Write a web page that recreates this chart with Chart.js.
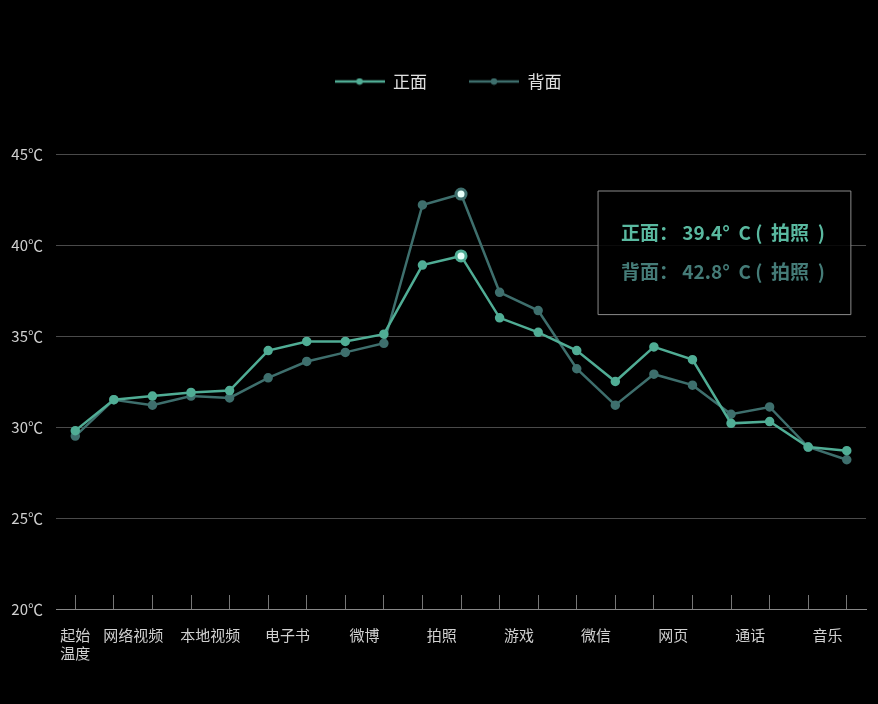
<!DOCTYPE html>
<html>
<head>
<meta charset="utf-8">
<script src="https://cdn.jsdelivr.net/npm/chart.js@4"></script>
<style>
  html, body { margin: 0; padding: 0; background: #000; }
  #wrap { width: 878px; height: 704px; }
</style>
</head>
<body>
<div id="wrap"><canvas id="chart"></canvas></div>
<script>
const categories = ['起始温度', '网络视频', '本地视频', '电子书', '微博', '拍照', '游戏', '微信', '网页', '通话', '音乐'];
const frontTemps = [29.8, 31.5, 31.7, 31.9, 32.0, 34.2, 34.7, 34.7, 35.1, 38.9, 39.4,
                    36.0, 35.2, 34.2, 32.5, 34.4, 33.7, 30.2, 30.3, 28.9, 28.7];
const backTemps  = [29.5, 31.5, 31.2, 31.7, 31.6, 32.7, 33.6, 34.1, 34.6, 42.2, 42.8,
                    37.4, 36.4, 33.2, 31.2, 32.9, 32.3, 30.7, 31.1, 28.9, 28.2];
const yTicks = [20, 25, 30, 35, 40, 45];
const activeIndex = 10;

const frontColor = '#50ad95';
const backColor = '#3e6f6d';
const font = '"Noto Sans CJK SC", "Noto Sans", sans-serif';

// point index -> category: 0 is the start, then two points per category
function categoryOf(i) {
  return categories[Math.ceil(i / 2)];
}

// legend icon: short line with a dot in the middle
function legendIcon(color) {
  const c = document.createElement('canvas');
  c.width = 50; c.height = 8;
  const g = c.getContext('2d');
  g.strokeStyle = color; g.lineWidth = 2.5;
  g.beginPath(); g.moveTo(0, 4); g.lineTo(50, 4); g.stroke();
  g.fillStyle = color;
  g.beginPath(); g.arc(25, 4, 3.2, 0, Math.PI * 2); g.fill();
  return c;
}

Chart.Tooltip.positioners.fixedBox = function () {
  const area = this.chart.chartArea;
  return { x: area.right - 268, y: area.top + 37, xAlign: 'left', yAlign: 'top' };
};

const labelValues = [0];
for (let k = 1; k < categories.length; k++) labelValues.push(2 * k - 0.5);

const ctx = document.getElementById('chart').getContext('2d');
const chart = new Chart(ctx, {
  type: 'line',
  data: {
    labels: frontTemps.map((_, i) => i),
    datasets: [{
      label: '正面',
      data: frontTemps,
      borderColor: frontColor,
      backgroundColor: frontColor,
      borderWidth: 2.5,
      pointRadius: 3.5,
      pointHoverRadius: 5,
      pointHoverBorderWidth: 3,
      pointHoverBackgroundColor: '#e6fff8',
      pointHoverBorderColor: frontColor,
      tension: 0
    }, {
      label: '背面',
      data: backTemps,
      borderColor: backColor,
      backgroundColor: backColor,
      borderWidth: 2.5,
      pointRadius: 3.5,
      pointHoverRadius: 5,
      pointHoverBorderWidth: 3,
      pointHoverBackgroundColor: '#e6fff8',
      pointHoverBorderColor: backColor,
      tension: 0
    }]
  },
  options: {
    responsive: true,
    maintainAspectRatio: false,
    animation: false,
    layout: { padding: { top: 31, right: 10, left: 0, bottom: 11 } },
    interaction: { mode: 'index', intersect: false },
    scales: {
      x: {
        type: 'linear',
        min: -0.5,
        max: 20.5,
        afterBuildTicks: axis => {
          const vals = frontTemps.map((_, i) => i).concat(labelValues.slice(1));
          vals.sort((a, b) => a - b);
          axis.ticks = vals.map(v => ({ value: v }));
        },
        grid: {
          drawOnChartArea: false,
          tickLength: -14,
          color: c => (c.tick && Number.isInteger(c.tick.value)) ? '#777' : 'rgba(0,0,0,0)'
        },
        border: { display: true, color: '#888', width: 1 },
        ticks: {
          autoSkip: false,
          maxRotation: 0,
          padding: 31,
          color: '#d0d0d0',
          font: { family: font, size: 15 },
          callback: v => {
            if (v === 0) return ['起始', '温度'];
            const k = labelValues.indexOf(v);
            return k > 0 ? categories[k] : '';
          }
        }
      },
      y: {
        min: 20,
        max: 45,
        afterBuildTicks: axis => { axis.ticks = yTicks.map(v => ({ value: v })); },
        afterFit: axis => { axis.width = 56; },
        grid: {
          color: c => (c.tick && c.tick.value === 20) ? '#888' : '#4a4a4a',
          drawTicks: false
        },
        border: { display: false },
        ticks: {
          padding: 13,
          color: '#d0d0d0',
          font: { family: font, size: 15 },
          callback: v => v + '℃'
        }
      }
    },
    plugins: {
      legend: {
        position: 'top',
        labels: {
          color: '#e0e0e0',
          font: { family: font, size: 17 },
          padding: 42,
          usePointStyle: true,
          pointStyleWidth: 50,
          generateLabels: ch => ch.data.datasets.map((ds, i) => ({
            text: ds.label,
            fontColor: '#e0e0e0',
            pointStyle: legendIcon(ds.borderColor),
            datasetIndex: i,
            lineWidth: 0,
            strokeStyle: ds.borderColor,
            fillStyle: ds.borderColor
          }))
        }
      },
      tooltip: {
        position: 'fixedBox',
        displayColors: false,
        backgroundColor: 'rgba(0,0,0,0.85)',
        borderColor: '#8a8a8a',
        borderWidth: 1,
        cornerRadius: 0,
        caretSize: 0,
        caretPadding: 0,
        padding: { top: 30, bottom: 31, left: 23, right: 26 },
        bodySpacing: 17,
        bodyFont: { family: font, size: 19, weight: 'bold' },
        callbacks: {
          title: () => '',
          label: c => c.dataset.label + '： ' + c.parsed.y.toFixed(1) + '°  C (  ' + categoryOf(c.dataIndex) + '  )',
          labelTextColor: c => c.datasetIndex === 0 ? '#5ab9a0' : '#457c78'
        }
      }
    }
  },
  plugins: [{
    id: 'legendGap',
    beforeInit(ch) {
      const fit = ch.legend.fit;
      ch.legend.fit = function () {
        fit.call(this);
        this.height += 54;
      };
    },
    afterLayout(ch) {
      // the reference legend sits a little right of centre
      ch.legend.left += 14;
      ch.legend.right += 14;
    }
  }]
});

const active = [{ datasetIndex: 0, index: activeIndex }, { datasetIndex: 1, index: activeIndex }];
chart.setActiveElements(active);
chart.tooltip.setActiveElements(active, { x: 0, y: 0 });
chart.update();
</script>
</body>
</html>
